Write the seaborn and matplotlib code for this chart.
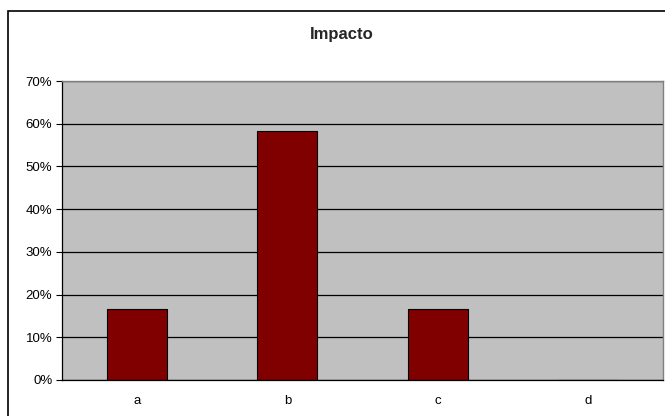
import matplotlib
matplotlib.use("Agg")
import matplotlib.pyplot as plt
import seaborn as sns
import pandas as pd
from matplotlib.patches import Rectangle
from matplotlib.ticker import PercentFormatter

categories = ["a", "b", "c", "d"]
values = [1 / 6, 7 / 12, 1 / 6, 0.0]
title = "Impacto"

sns.set_theme(style="white")
plt.rcParams["font.family"] = ["Liberation Sans", "DejaVu Sans"]

df = pd.DataFrame({"categoria": categories, "valor": values})

fig = plt.figure(figsize=(6.65, 4.16), dpi=100)
fig.patch.set_facecolor("white")

# chart frame
fig.patches.append(Rectangle((8 / 665, -0.1), 1.2, (416 - 11) / 416 + 0.1,
                             transform=fig.transFigure, fill=False,
                             edgecolor="#000000", linewidth=1.2))

ax = fig.add_axes([62 / 665, 36 / 416, 601 / 665, 299 / 416])
ax.set_facecolor("#C0C0C0")

sns.barplot(data=df, x="categoria", y="valor", ax=ax, color="#800000",
            width=0.4, edgecolor="black", linewidth=0.8, saturation=1)

ax.set_ylim(0, 0.7)
ax.set_xlim(-0.5, 3.5)
ax.set_yticks([i / 10 for i in range(8)])
ax.yaxis.set_major_formatter(PercentFormatter(1.0, decimals=0))
ax.yaxis.grid(True, color="black", linewidth=0.9)
ax.set_axisbelow(True)

ax.set_xticks([0, 1, 2, 3])
ax.set_xticklabels(categories)
ax.set_xticks([0.5, 1.5, 2.5, 3.5], minor=True)
ax.tick_params(axis="x", which="major", length=0, pad=11, labelsize=9.5, colors="black")
ax.tick_params(axis="x", which="minor", length=4, width=0.8, color="black", direction="out")
ax.tick_params(axis="y", length=4, width=0.8, color="black", direction="out",
               pad=3, labelsize=9.5, labelcolor="black", left=True)

ax.set_xlabel("")
ax.set_ylabel("")

for side in ["top", "right"]:
    ax.spines[side].set_color("#808080")
    ax.spines[side].set_linewidth(1.0)
for side in ["left", "bottom"]:
    ax.spines[side].set_color("black")
    ax.spines[side].set_linewidth(0.9)

fig.text(342 / 665, 1 - 34 / 416, title, ha="center", va="center",
         fontsize=12, fontweight="bold")

fig.savefig("out.png", dpi=100)
